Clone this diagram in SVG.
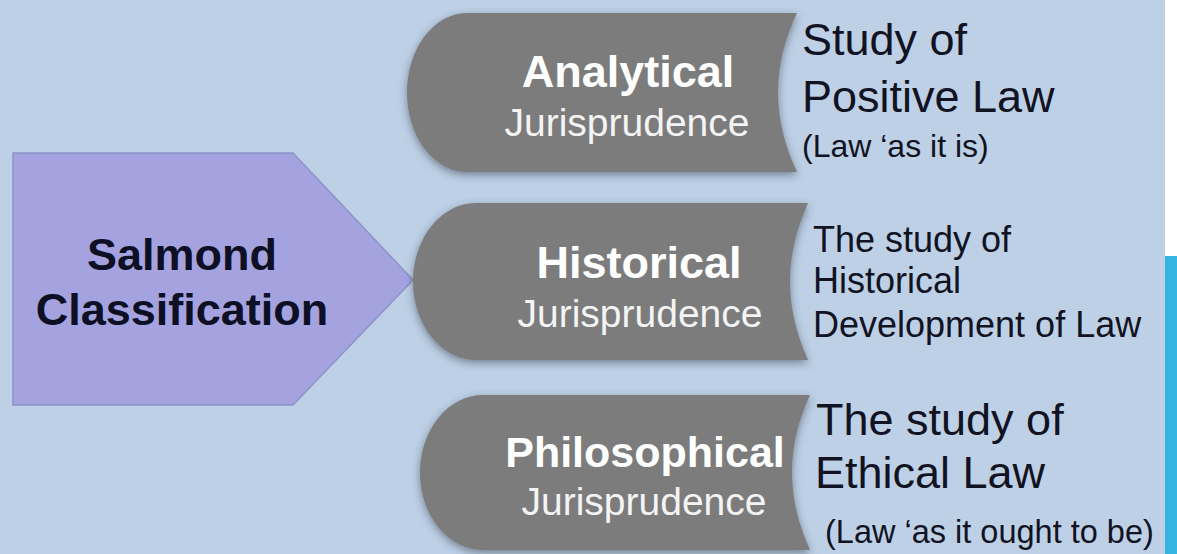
<svg xmlns="http://www.w3.org/2000/svg" width="1177" height="554" viewBox="0 0 1177 554">
<style>
.bg{fill:#bdd0e6}
.pent{fill:#a4a3e0;stroke:#8e93c9;stroke-width:1.5}
.tab{fill:#7b7b7d}
.t{font-family:"Liberation Sans",Arial,sans-serif}
.head{font-weight:bold;fill:#ffffff;text-anchor:middle}
.sub{fill:#f4f4f4;text-anchor:middle}
.desc{fill:#111322}
.main{font-weight:bold;fill:#0d0f24;text-anchor:middle}
</style>
<defs>
<filter id="sh" x="-10%" y="-15%" width="120%" height="135%">
<feGaussianBlur in="SourceAlpha" stdDeviation="4"/>
<feOffset dx="0" dy="3" result="b"/>
<feFlood flood-color="#3a3f4a" flood-opacity="0.55"/>
<feComposite in2="b" operator="in"/>
<feMerge><feMergeNode/><feMergeNode in="SourceGraphic"/></feMerge>
</filter>
</defs>
<rect class="bg" x="0" y="0" width="1177" height="554"/>
<rect x="1165" y="0" width="12" height="256" fill="#ffffff"/>
<rect x="1165" y="256" width="12" height="298" fill="#36b3e1"/>

<g id="salmond">
<path class="pent" d="M13,153 L293,153 L413,280 L293,405 L13,405 Z"/>
<text class="t main" x="182" y="270" font-size="45">Salmond</text>
<text class="t main" x="182" y="325" font-size="45">Classification</text>
</g>

<g id="connectors"></g>

<g id="analytical">
<path class="tab" filter="url(#sh)" d="M467,13 L797,13 Q759,92 797,172 L467,172 A60,79.5 0 0 1 467,13 Z"/>
<text class="t head" x="628" y="87" font-size="45">Analytical</text>
<text class="t sub" x="627" y="136" font-size="39">Jurisprudence</text>
</g>

<g id="historical">
<path class="tab" filter="url(#sh)" d="M476,203 L808,203 Q772,281 808,360 L476,360 A63,78.5 0 0 1 476,203 Z"/>
<text class="t head" x="639" y="278" font-size="45">Historical</text>
<text class="t sub" x="640" y="327" font-size="39">Jurisprudence</text>
</g>

<g id="philosophical">
<path class="tab" filter="url(#sh)" d="M483,395 L810,395 Q774,472 810,550 L483,550 A63,77.5 0 0 1 483,395 Z"/>
<text class="t head" x="645" y="467" font-size="43">Philosophical</text>
<text class="t sub" x="644" y="515" font-size="39">Jurisprudence</text>
</g>

<g id="desc-analytical">
<text class="t desc" x="802" y="55" font-size="45">Study of</text>
<text class="t desc" x="802" y="112" font-size="45">Positive Law</text>
<text class="t desc" x="802" y="157" font-size="32">(Law ‘as it is)</text>
</g>

<g id="desc-historical">
<text class="t desc" x="813" y="252" font-size="36">The study of</text>
<text class="t desc" x="813" y="293" font-size="36">Historical</text>
<text class="t desc" x="813" y="337" font-size="36">Development of Law</text>
</g>

<g id="desc-philosophical">
<text class="t desc" x="816" y="435" font-size="45">The study of</text>
<text class="t desc" x="815" y="488" font-size="45">Ethical Law</text>
<text class="t desc" x="825" y="543" font-size="32.5">(Law ‘as it ought to be)</text>
</g>
</svg>
